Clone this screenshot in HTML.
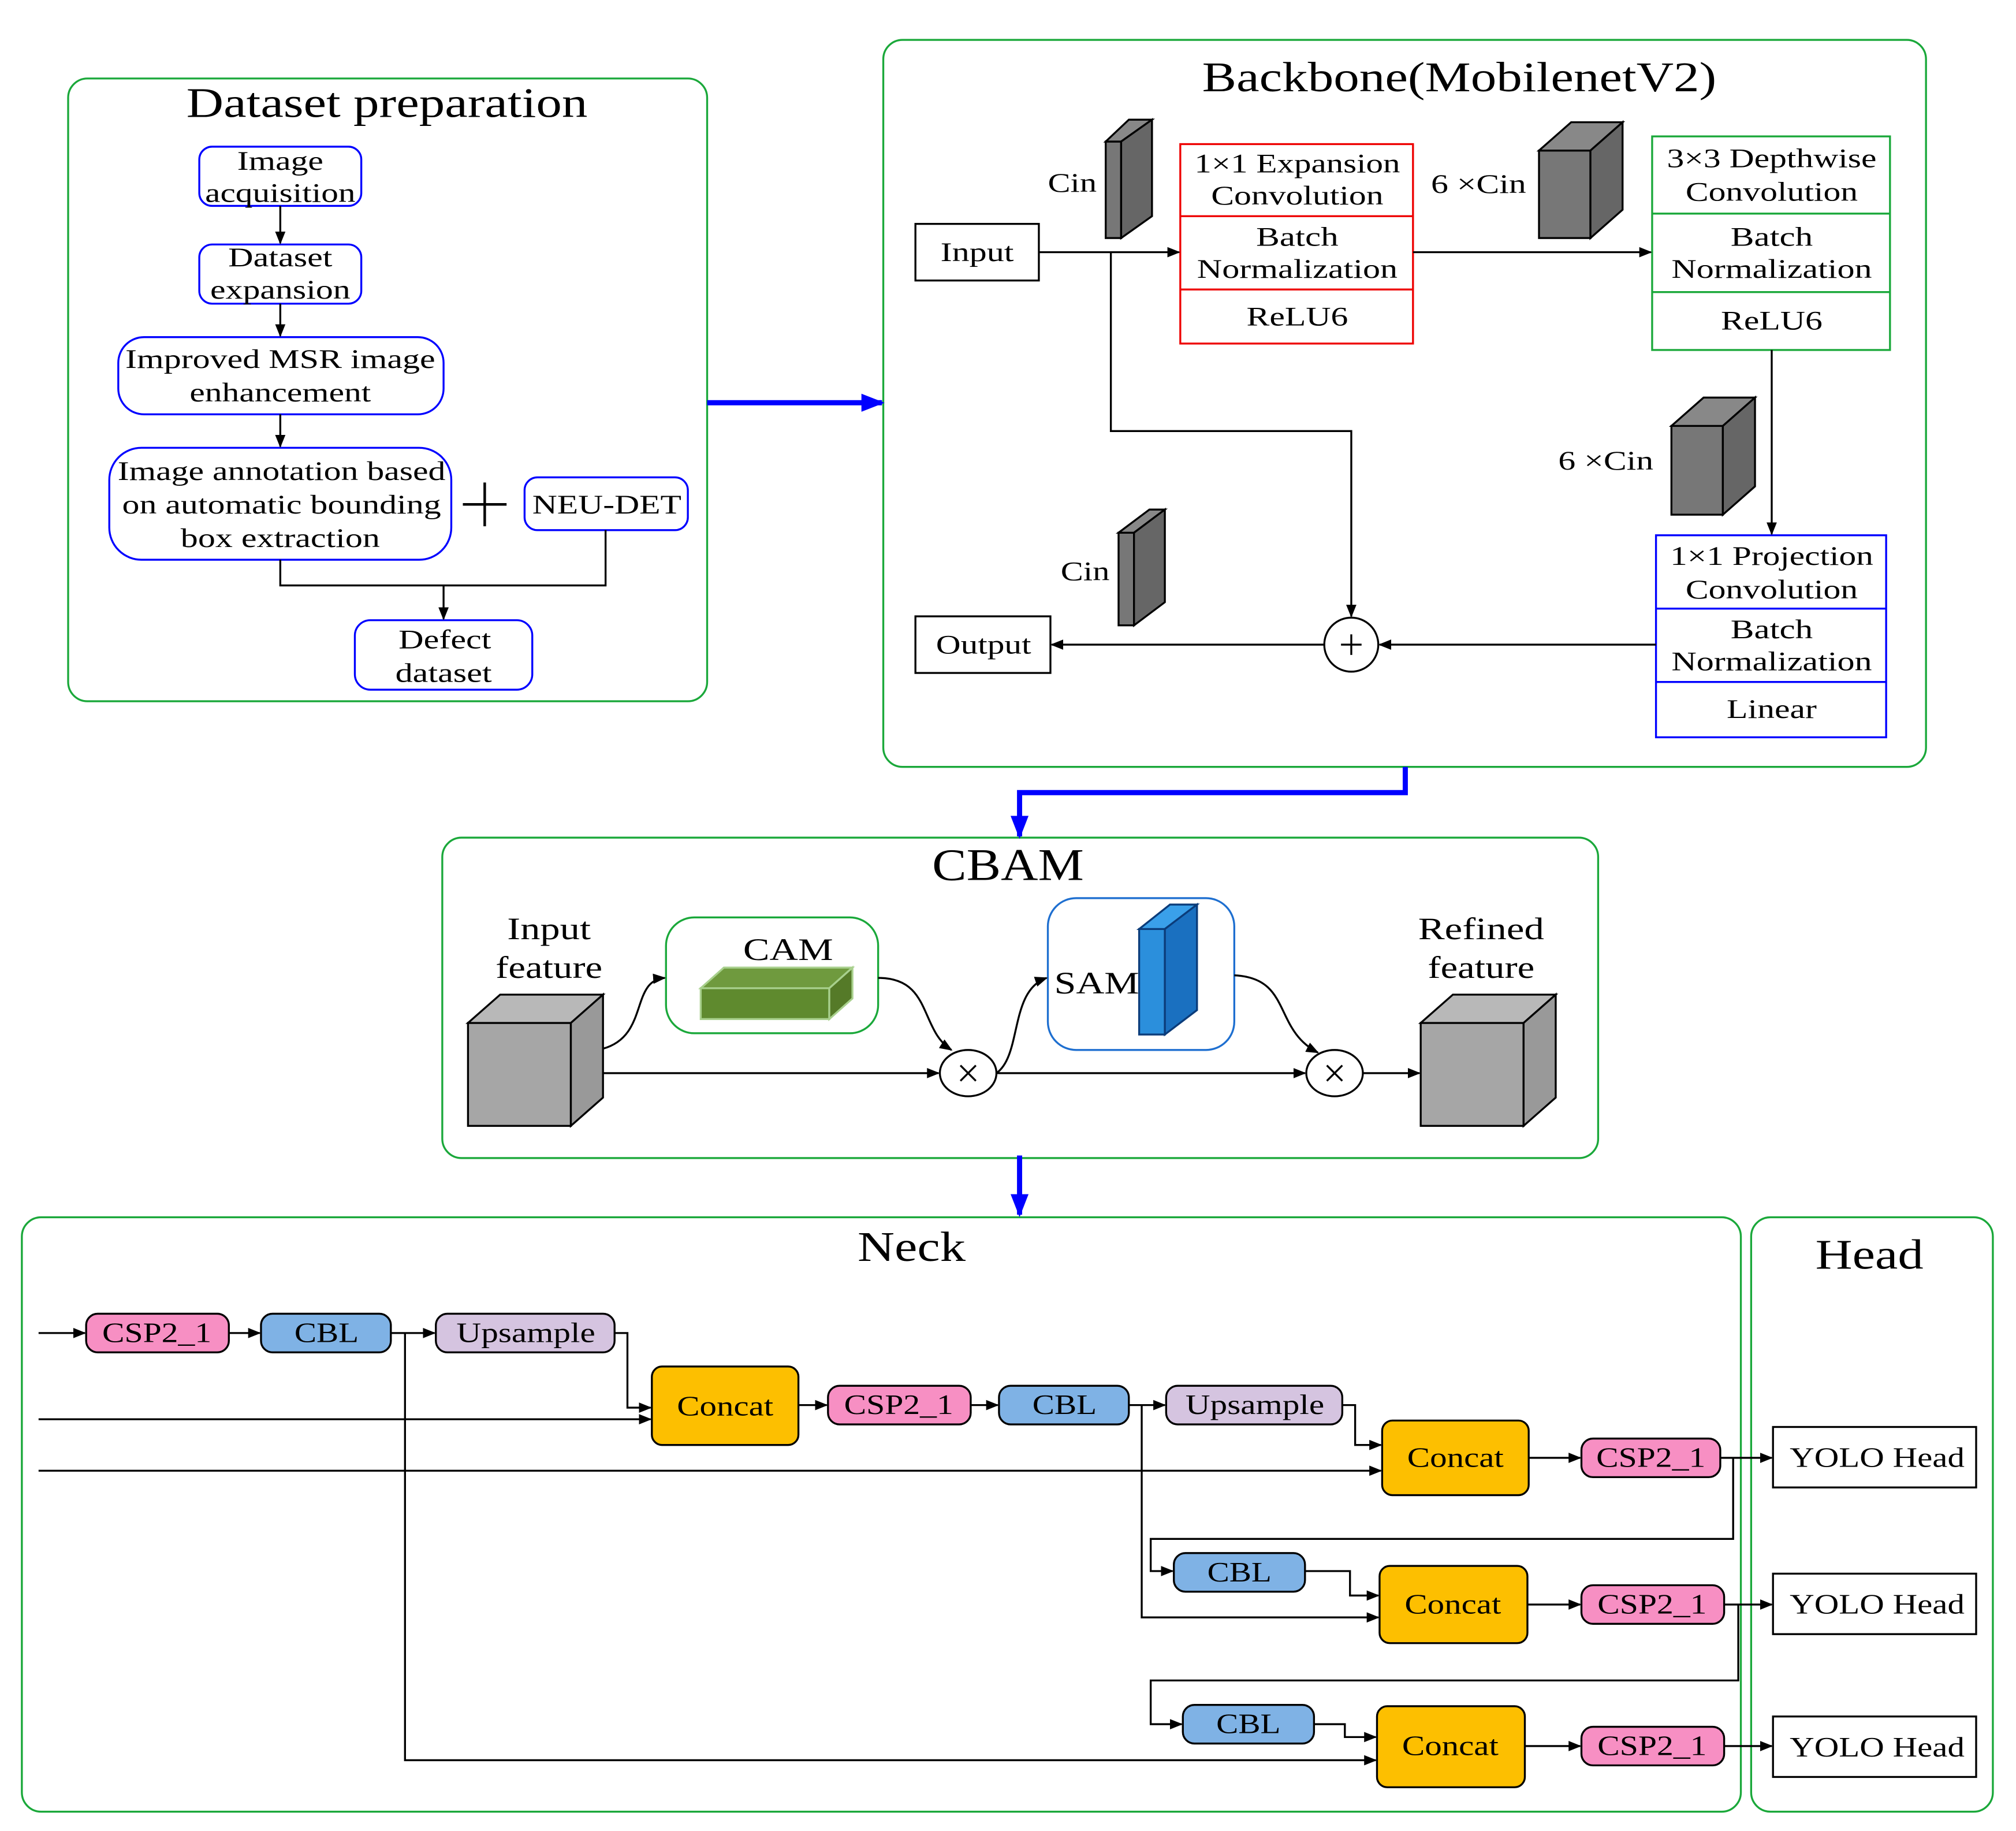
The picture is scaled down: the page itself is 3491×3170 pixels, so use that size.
<!DOCTYPE html>
<html><head><meta charset="utf-8"><style>html,body{margin:0;padding:0;background:#fff}svg{display:block}</style></head>
<body>
<svg xmlns="http://www.w3.org/2000/svg" width="3491" height="3170" viewBox="0 0 1568 1423" preserveAspectRatio="none" font-family="Liberation Serif, serif">
<defs>
<marker id="a" markerWidth="10" markerHeight="8" refX="9" refY="4" orient="auto" markerUnits="userSpaceOnUse"><path d="M0,0 L10,4 L0,8 z" fill="#000"/></marker>
<marker id="b" markerWidth="18" markerHeight="14" refX="16" refY="7" orient="auto" markerUnits="userSpaceOnUse"><path d="M0,0 L18,7 L0,14 z" fill="#00f"/></marker>
</defs>
<rect width="1568" height="1423" fill="#fff"/>
<g fill="none" stroke="#1aa83a" stroke-width="1.5">
<rect x="53" y="61" width="497" height="484" rx="15"/>
<rect x="687" y="31" width="811" height="565" rx="15"/>
<rect x="344" y="651" width="899" height="249" rx="15"/>
<rect x="17" y="946" width="1337" height="462" rx="15"/>
<rect x="1362" y="946" width="188" height="462" rx="15"/>
</g>
<g font-size="33" text-anchor="middle" lengthAdjust="spacingAndGlyphs">
<text x="301" y="91" textLength="312" lengthAdjust="spacingAndGlyphs">Dataset preparation</text>
<text x="1135" y="71" textLength="400" lengthAdjust="spacingAndGlyphs">Backbone(MobilenetV2)</text>
<text x="784" y="684" font-size="35" textLength="118" lengthAdjust="spacingAndGlyphs">CBAM</text>
<text x="709" y="980" textLength="84" lengthAdjust="spacingAndGlyphs">Neck</text>
<text x="1454" y="986" textLength="84" lengthAdjust="spacingAndGlyphs">Head</text>
</g>
<!-- Dataset -->
<g fill="none" stroke="#00f" stroke-width="1.5">
<rect x="155" y="114" width="126" height="46" rx="10"/>
<rect x="155" y="190" width="126" height="46" rx="10"/>
<rect x="92" y="262" width="253" height="60" rx="20"/>
<rect x="85" y="348" width="266" height="87" rx="25"/>
<rect x="408" y="371" width="127" height="41" rx="10"/>
<rect x="276" y="482" width="138" height="54" rx="12"/>
</g>
<g font-size="21" text-anchor="middle">
<text x="218" y="132" textLength="67" lengthAdjust="spacingAndGlyphs">Image</text><text x="218" y="157" textLength="117" lengthAdjust="spacingAndGlyphs">acquisition</text>
<text x="218" y="207" textLength="81" lengthAdjust="spacingAndGlyphs">Dataset</text><text x="218" y="232" textLength="109" lengthAdjust="spacingAndGlyphs">expansion</text>
<text x="218" y="286" textLength="241" lengthAdjust="spacingAndGlyphs">Improved MSR image</text><text x="218" y="312" textLength="141" lengthAdjust="spacingAndGlyphs">enhancement</text>
<text x="219" y="373" textLength="255" lengthAdjust="spacingAndGlyphs">Image annotation based</text><text x="219" y="399" textLength="248" lengthAdjust="spacingAndGlyphs">on automatic bounding</text><text x="218" y="425" textLength="155" lengthAdjust="spacingAndGlyphs">box extraction</text>
<text x="472" y="399" textLength="116" lengthAdjust="spacingAndGlyphs">NEU-DET</text>
<text x="346" y="504" textLength="72" lengthAdjust="spacingAndGlyphs">Defect</text><text x="345" y="530" textLength="75" lengthAdjust="spacingAndGlyphs">dataset</text>
</g>
<g stroke="#000" stroke-width="1.5" fill="none">
<line x1="218" y1="160" x2="218" y2="189" marker-end="url(#a)"/>
<line x1="218" y1="236" x2="218" y2="261" marker-end="url(#a)"/>
<line x1="218" y1="322" x2="218" y2="347" marker-end="url(#a)"/>
<polyline points="218,435 218,455 471,455 471,412"/>
<line x1="345" y1="455" x2="345" y2="481" marker-end="url(#a)"/>
<line x1="360" y1="392" x2="394" y2="392" stroke-width="2"/><line x1="377" y1="375" x2="377" y2="409" stroke-width="2"/>
</g>
<g stroke="#00f" stroke-width="4" fill="none">
<line x1="550" y1="313" x2="686" y2="313" marker-end="url(#b)"/>
<polyline points="1093,596 1093,616 793,616 793,650" marker-end="url(#b)"/>
<line x1="793" y1="898" x2="793" y2="944" marker-end="url(#b)"/>
</g>
<!-- Backbone -->
<g stroke="#000" stroke-width="1.5" fill="#fff">
<rect x="712" y="174" width="96" height="44"/>
<rect x="712" y="479" width="105" height="44"/>
</g>
<rect x="918" y="112" width="181" height="155" fill="none" stroke="#e00" stroke-width="1.5"/>
<line x1="918" y1="168" x2="1099" y2="168" stroke="#e00" stroke-width="1.5"/><line x1="918" y1="225" x2="1099" y2="225" stroke="#e00" stroke-width="1.5"/>
<rect x="1285" y="106" width="185" height="166" fill="none" stroke="#1aa83a" stroke-width="1.5"/>
<line x1="1285" y1="166" x2="1470" y2="166" stroke="#1aa83a" stroke-width="1.5"/><line x1="1285" y1="227" x2="1470" y2="227" stroke="#1aa83a" stroke-width="1.5"/>
<rect x="1288" y="416" width="179" height="157" fill="none" stroke="#00f" stroke-width="1.5"/>
<line x1="1288" y1="473" x2="1467" y2="473" stroke="#00f" stroke-width="1.5"/><line x1="1288" y1="530" x2="1467" y2="530" stroke="#00f" stroke-width="1.5"/>
<g font-size="21" text-anchor="middle">
<text x="760" y="203" textLength="57" lengthAdjust="spacingAndGlyphs">Input</text><text x="765" y="508" textLength="74" lengthAdjust="spacingAndGlyphs">Output</text>
<text x="1009" y="134" textLength="160" lengthAdjust="spacingAndGlyphs">1×1 Expansion</text><text x="1009" y="159" textLength="134" lengthAdjust="spacingAndGlyphs">Convolution</text>
<text x="1009" y="191" textLength="64" lengthAdjust="spacingAndGlyphs">Batch</text><text x="1009" y="216" textLength="156" lengthAdjust="spacingAndGlyphs">Normalization</text><text x="1009" y="253" textLength="79" lengthAdjust="spacingAndGlyphs">ReLU6</text>
<text x="1378" y="130" textLength="163" lengthAdjust="spacingAndGlyphs">3×3 Depthwise</text><text x="1378" y="156" textLength="134" lengthAdjust="spacingAndGlyphs">Convolution</text>
<text x="1378" y="191" textLength="64" lengthAdjust="spacingAndGlyphs">Batch</text><text x="1378" y="216" textLength="156" lengthAdjust="spacingAndGlyphs">Normalization</text><text x="1378" y="256" textLength="79" lengthAdjust="spacingAndGlyphs">ReLU6</text>
<text x="1378" y="439" textLength="158" lengthAdjust="spacingAndGlyphs">1×1 Projection</text><text x="1378" y="465" textLength="134" lengthAdjust="spacingAndGlyphs">Convolution</text>
<text x="1378" y="496" textLength="64" lengthAdjust="spacingAndGlyphs">Batch</text><text x="1378" y="521" textLength="156" lengthAdjust="spacingAndGlyphs">Normalization</text><text x="1378" y="558" textLength="70" lengthAdjust="spacingAndGlyphs">Linear</text>
<text x="834" y="149" textLength="38" lengthAdjust="spacingAndGlyphs">Cin</text><text x="1150" y="150" textLength="74" lengthAdjust="spacingAndGlyphs">6 ×Cin</text><text x="1249" y="365" textLength="74" lengthAdjust="spacingAndGlyphs">6 ×Cin</text><text x="844" y="451" textLength="38" lengthAdjust="spacingAndGlyphs">Cin</text>
</g>
<g stroke="#000" stroke-width="1.5" fill="none">
<line x1="808" y1="196" x2="917" y2="196" marker-end="url(#a)"/>
<line x1="1099" y1="196" x2="1284" y2="196" marker-end="url(#a)"/>
<line x1="1378" y1="272" x2="1378" y2="415" marker-end="url(#a)"/>
<line x1="1288" y1="501" x2="1073" y2="501" marker-end="url(#a)"/>
<line x1="1030" y1="501" x2="818" y2="501" marker-end="url(#a)"/>
<polyline points="864,196 864,335 1051,335 1051,479" marker-end="url(#a)"/>
<circle cx="1051" cy="501" r="21" fill="#fff"/>
<line x1="1043" y1="501" x2="1059" y2="501"/><line x1="1051" y1="493" x2="1051" y2="509"/>
</g>
<!-- cubes -->
<g stroke="#000" stroke-width="1.5" fill="#777">
<rect x="860" y="110" width="12" height="75"/><polygon points="860,110 878,93 896,93 872,110" fill="#888"/><polygon points="872,110 896,93 896,168 872,185" fill="#666"/>
<rect x="1197" y="117" width="40" height="68"/><polygon points="1197,117 1222,95 1262,95 1237,117" fill="#888"/><polygon points="1237,117 1262,95 1262,163 1237,185" fill="#666"/>
<rect x="1300" y="331" width="40" height="69"/><polygon points="1300,331 1325,309 1365,309 1340,331" fill="#888"/><polygon points="1340,331 1365,309 1365,378 1340,400" fill="#666"/>
<rect x="870" y="414" width="12" height="72"/><polygon points="870,414 894,396 906,396 882,414" fill="#888"/><polygon points="882,414 906,396 906,468 882,486" fill="#666"/>
</g>
<!-- CBAM -->
<g font-size="24" text-anchor="middle">
<text x="427" y="730" textLength="65" lengthAdjust="spacingAndGlyphs">Input</text><text x="427" y="760" textLength="83" lengthAdjust="spacingAndGlyphs">feature</text>
<text x="1152" y="730" textLength="98" lengthAdjust="spacingAndGlyphs">Refined</text><text x="1152" y="760" textLength="83" lengthAdjust="spacingAndGlyphs">feature</text>
<text x="613" y="746" textLength="70" lengthAdjust="spacingAndGlyphs">CAM</text><text x="853" y="772" textLength="66" lengthAdjust="spacingAndGlyphs">SAM</text>
</g>
<rect x="518" y="713" width="165" height="90" rx="22" fill="none" stroke="#1aa83a" stroke-width="1.5"/>
<rect x="815" y="698" width="145" height="118" rx="22" fill="none" stroke="#1e6fd0" stroke-width="1.5"/>
<g stroke="#a8d08d" stroke-width="1.5">
<rect x="545" y="768" width="100" height="24" fill="#5f8a2e"/><polygon points="545,768 563,752 663,752 645,768" fill="#6f9a3e"/><polygon points="645,768 663,752 663,776 645,792" fill="#557a28"/>
</g>
<g stroke="#0b3c7a" stroke-width="1.5">
<rect x="886" y="722" width="20" height="82" fill="#2b8fdc"/><polygon points="886,722 910,703 931,703 906,722" fill="#3aa0ea"/><polygon points="906,722 931,703 931,785 906,804" fill="#1a70c0"/>
</g>
<g stroke="#000" stroke-width="1.5">
<rect x="364" y="795" width="80" height="80" fill="#a6a6a6"/><polygon points="364,795 389,773 469,773 444,795" fill="#b8b8b8"/><polygon points="444,795 469,773 469,853 444,875" fill="#999"/>
<rect x="1105" y="795" width="80" height="80" fill="#a6a6a6"/><polygon points="1105,795 1130,773 1210,773 1185,795" fill="#b8b8b8"/><polygon points="1185,795 1210,773 1210,853 1185,875" fill="#999"/>
</g>
<g stroke="#000" stroke-width="1.5" fill="none">
<line x1="469" y1="834" x2="730" y2="834" marker-end="url(#a)"/>
<line x1="775" y1="834" x2="1015" y2="834" marker-end="url(#a)"/>
<line x1="1060" y1="834" x2="1104" y2="834" marker-end="url(#a)"/>
<path d="M469,815 C505,805 490,762 517,760" marker-end="url(#a)"/>
<path d="M683,760 C725,760 715,800 740,816" marker-end="url(#a)"/>
<path d="M775,834 C795,820 785,770 814,760" marker-end="url(#a)"/>
<path d="M960,758 C1005,760 990,800 1025,818" marker-end="url(#a)"/>
<ellipse cx="753" cy="834" rx="22" ry="18" fill="#fff"/><path d="M747,828 L759,840 M759,828 L747,840"/>
<ellipse cx="1038" cy="834" rx="22" ry="18" fill="#fff"/><path d="M1032,828 L1044,840 M1044,828 L1032,840"/>
</g>
<!-- Neck lines -->
<g stroke="#000" stroke-width="1.5" fill="none">
<line x1="30" y1="1036" x2="66" y2="1036" marker-end="url(#a)"/>
<line x1="178" y1="1036" x2="202" y2="1036" marker-end="url(#a)"/>
<line x1="304" y1="1036" x2="338" y2="1036" marker-end="url(#a)"/>
<polyline points="478,1036 488,1036 488,1094 506,1094" marker-end="url(#a)"/>
<line x1="30" y1="1103" x2="506" y2="1103" marker-end="url(#a)"/>
<line x1="621" y1="1092" x2="643" y2="1092" marker-end="url(#a)"/>
<line x1="755" y1="1092" x2="776" y2="1092" marker-end="url(#a)"/>
<line x1="878" y1="1092" x2="906" y2="1092" marker-end="url(#a)"/>
<polyline points="1044,1092 1054,1092 1054,1123 1074,1123" marker-end="url(#a)"/>
<line x1="30" y1="1143" x2="1074" y2="1143" marker-end="url(#a)"/>
<line x1="1189" y1="1133" x2="1229" y2="1133" marker-end="url(#a)"/>
<line x1="1338" y1="1133" x2="1378" y2="1133" marker-end="url(#a)"/>
<polyline points="1348,1133 1348,1196 895,1196 895,1221 912,1221" marker-end="url(#a)"/>
<polyline points="1015,1221 1050,1221 1050,1240 1072,1240" marker-end="url(#a)"/>
<polyline points="888,1092 888,1257 1072,1257" marker-end="url(#a)"/>
<line x1="1188" y1="1247" x2="1229" y2="1247" marker-end="url(#a)"/>
<line x1="1341" y1="1247" x2="1378" y2="1247" marker-end="url(#a)"/>
<polyline points="1352,1247 1352,1306 895,1306 895,1340 919,1340" marker-end="url(#a)"/>
<polyline points="1022,1340 1046,1340 1046,1350 1070,1350" marker-end="url(#a)"/>
<polyline points="315,1036 315,1368 1070,1368" marker-end="url(#a)"/>
<line x1="1186" y1="1357" x2="1229" y2="1357" marker-end="url(#a)"/>
<line x1="1341" y1="1357" x2="1378" y2="1357" marker-end="url(#a)"/>
</g>
<g stroke="#000" stroke-width="1.5">
<rect x="67" y="1021" width="111" height="30" rx="9" fill="#f78fc3"/>
<rect x="203" y="1021" width="101" height="30" rx="9" fill="#7fb2e5"/>
<rect x="339" y="1021" width="139" height="30" rx="9" fill="#d5c4e0"/>
<rect x="507" y="1062" width="114" height="61" rx="8" fill="#fdbf00"/>
<rect x="644" y="1077" width="111" height="30" rx="9" fill="#f78fc3"/>
<rect x="777" y="1077" width="101" height="30" rx="9" fill="#7fb2e5"/>
<rect x="907" y="1077" width="137" height="30" rx="9" fill="#d5c4e0"/>
<rect x="1075" y="1104" width="114" height="58" rx="8" fill="#fdbf00"/>
<rect x="1230" y="1118" width="108" height="30" rx="9" fill="#f78fc3"/>
<rect x="913" y="1207" width="102" height="30" rx="9" fill="#7fb2e5"/>
<rect x="1073" y="1217" width="115" height="60" rx="8" fill="#fdbf00"/>
<rect x="1230" y="1232" width="111" height="30" rx="9" fill="#f78fc3"/>
<rect x="920" y="1325" width="102" height="30" rx="9" fill="#7fb2e5"/>
<rect x="1071" y="1326" width="115" height="63" rx="8" fill="#fdbf00"/>
<rect x="1230" y="1342" width="111" height="30" rx="9" fill="#f78fc3"/>
<rect x="1379" y="1109" width="158" height="47" fill="#fff"/>
<rect x="1379" y="1223" width="158" height="47" fill="#fff"/>
<rect x="1379" y="1334" width="158" height="47" fill="#fff"/>
</g>
<g font-size="22" text-anchor="middle">
<text x="122" y="1043" textLength="85" lengthAdjust="spacingAndGlyphs">CSP2_1</text><text x="254" y="1043" textLength="50" lengthAdjust="spacingAndGlyphs">CBL</text><text x="409" y="1043" textLength="108" lengthAdjust="spacingAndGlyphs">Upsample</text>
<text x="564" y="1100" textLength="75" lengthAdjust="spacingAndGlyphs">Concat</text><text x="699" y="1099" textLength="85" lengthAdjust="spacingAndGlyphs">CSP2_1</text><text x="828" y="1099" textLength="50" lengthAdjust="spacingAndGlyphs">CBL</text><text x="976" y="1099" textLength="108" lengthAdjust="spacingAndGlyphs">Upsample</text>
<text x="1132" y="1140" textLength="75" lengthAdjust="spacingAndGlyphs">Concat</text><text x="1284" y="1140" textLength="85" lengthAdjust="spacingAndGlyphs">CSP2_1</text>
<text x="964" y="1229" textLength="50" lengthAdjust="spacingAndGlyphs">CBL</text><text x="1130" y="1254" textLength="75" lengthAdjust="spacingAndGlyphs">Concat</text><text x="1285" y="1254" textLength="85" lengthAdjust="spacingAndGlyphs">CSP2_1</text>
<text x="971" y="1347" textLength="50" lengthAdjust="spacingAndGlyphs">CBL</text><text x="1128" y="1364" textLength="75" lengthAdjust="spacingAndGlyphs">Concat</text><text x="1285" y="1364" textLength="85" lengthAdjust="spacingAndGlyphs">CSP2_1</text>
<text x="1460" y="1140" textLength="136" lengthAdjust="spacingAndGlyphs">YOLO Head</text><text x="1460" y="1254" textLength="136" lengthAdjust="spacingAndGlyphs">YOLO Head</text><text x="1460" y="1365" textLength="136" lengthAdjust="spacingAndGlyphs">YOLO Head</text>
</g>
</svg>
</body></html>
